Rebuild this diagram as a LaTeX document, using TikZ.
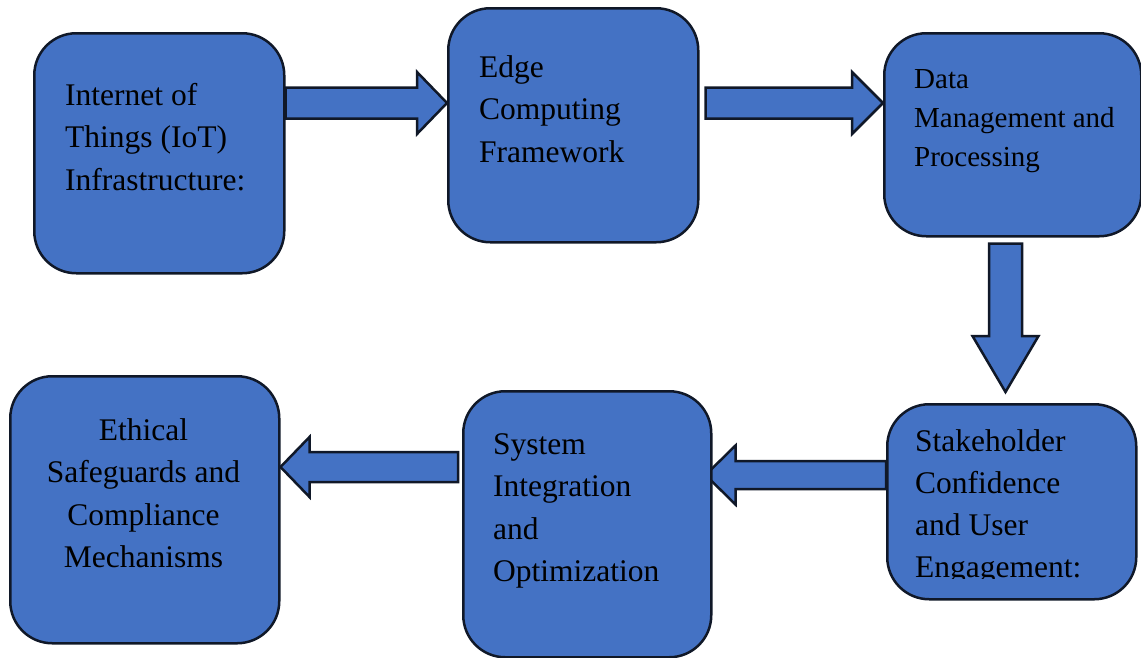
\documentclass[tikz,border=0pt]{standalone}
\usepackage{fontspec}
\setmainfont{Liberation Serif}
\usetikzlibrary{calc,backgrounds}
\definecolor{boxblue}{HTML}{4472C4}
\definecolor{edgec}{RGB}{16,24,40}
\tikzset{
  box/.style={draw=edgec, line width=2.5pt, fill=boxblue, rounded corners=42pt, inner sep=0pt, anchor=north west},
  blockarrowstyle/.style={draw=edgec, line width=2.5pt, fill=boxblue, line join=miter},
  txt/.style={font=\fontsize{31.5}{42.5}\selectfont, align=left, inner sep=0pt, anchor=base west, text=black},
  smalltxt/.style={txt, font=\fontsize{29}{39}\selectfont},
}
% #1 start, #2 tip, #3 shaft half width, #4 head half width, #5 head length
\newcommand\blockarrow[5]{%
  \coordinate (ba-h) at ($(#2)!#5!(#1)$);
  \filldraw[blockarrowstyle]
    ($(#1)!#3!90:(#2)$) -- ($(ba-h)!#3!90:(#2)$) -- ($(ba-h)!#4!90:(#2)$) -- (#2)
    -- ($(ba-h)!#4!-90:(#2)$) -- ($(ba-h)!#3!-90:(#2)$) -- ($(#1)!#3!-90:(#2)$) -- cycle;
}
\begin{document}
\begin{tikzpicture}[x=1pt,y=-1pt]
\useasboundingbox (0,0) rectangle (1141,657);
% boxes
\node[box, minimum width=250pt, minimum height=240pt] (iot) at (33,32) {};
\node[box, minimum width=250pt, minimum height=234pt] (edge) at (447,7) {};
\node[box, minimum width=257pt, minimum height=203pt] (data) at (883,32) {};
\node[box, minimum width=249pt, minimum height=195pt] (stake) at (886,403) {};
\node[box, minimum width=248pt, minimum height=266pt] (sys) at (462,390) {};
\node[box, minimum width=269pt, minimum height=267pt] (eth) at (9,375) {};
% texts (anchored at the baseline of the last line)
\node[txt] (iot-t) at (65,190) {Internet of\\Things (IoT)\\Infrastructure:};
\node[txt] (edge-t) at (479,162) {Edge\\Computing\\Framework};
\node[smalltxt] (data-t) at (914,166) {Data\\Management and\\Processing};
\begin{scope}
  \clip (886,403) rectangle (1135,578);
  \node[txt, font=\fontsize{31.5}{41.7}\selectfont] (stake-t) at (915,577) {Stakeholder\\Confidence\\and User\\Engagement:};
\end{scope}
\node[txt] (sys-t) at (493,581.5) {System\\Integration\\and\\Optimization};
\node[txt, align=center, anchor=base] (eth-t) at (143.5,567.5) {Ethical\\Safeguards and\\Compliance\\Mechanisms};
% arrows
\coordinate (a1s) at (iot.east |- 0,103);
\coordinate (a1e) at (edge.west |- 0,103);
\path (edge.east |- 0,103) ++(6,0) coordinate (a2s);
\coordinate (a2e) at (data.west |- 0,103);
\path (data.south -| 1005.5,0) ++(0,6) coordinate (a3s);
\path (stake.north -| 1005.5,0) ++(0,-11) coordinate (a3e);
\coordinate (a4s) at (stake.west |- 0,475);
\path (sys.east |- 0,475) ++(-7,0) coordinate (a4e);
\path (sys.west |- 0,467) ++(-4,0) coordinate (a5s);
\coordinate (a5e) at (eth.east |- 0,467);
\begin{scope}[on background layer]
  \blockarrow{a1s}{a1e}{15.5pt}{31pt}{30pt}
  \blockarrow{a2s}{a2e}{15.5pt}{31pt}{31pt}
  \blockarrow{a3s}{a3e}{16.5pt}{33pt}{56pt}
  \blockarrow{a4s}{a4e}{14pt}{29.5pt}{30pt}
  \blockarrow{a5s}{a5e}{15pt}{30pt}{29pt}
\end{scope}
\end{tikzpicture}
\end{document}
